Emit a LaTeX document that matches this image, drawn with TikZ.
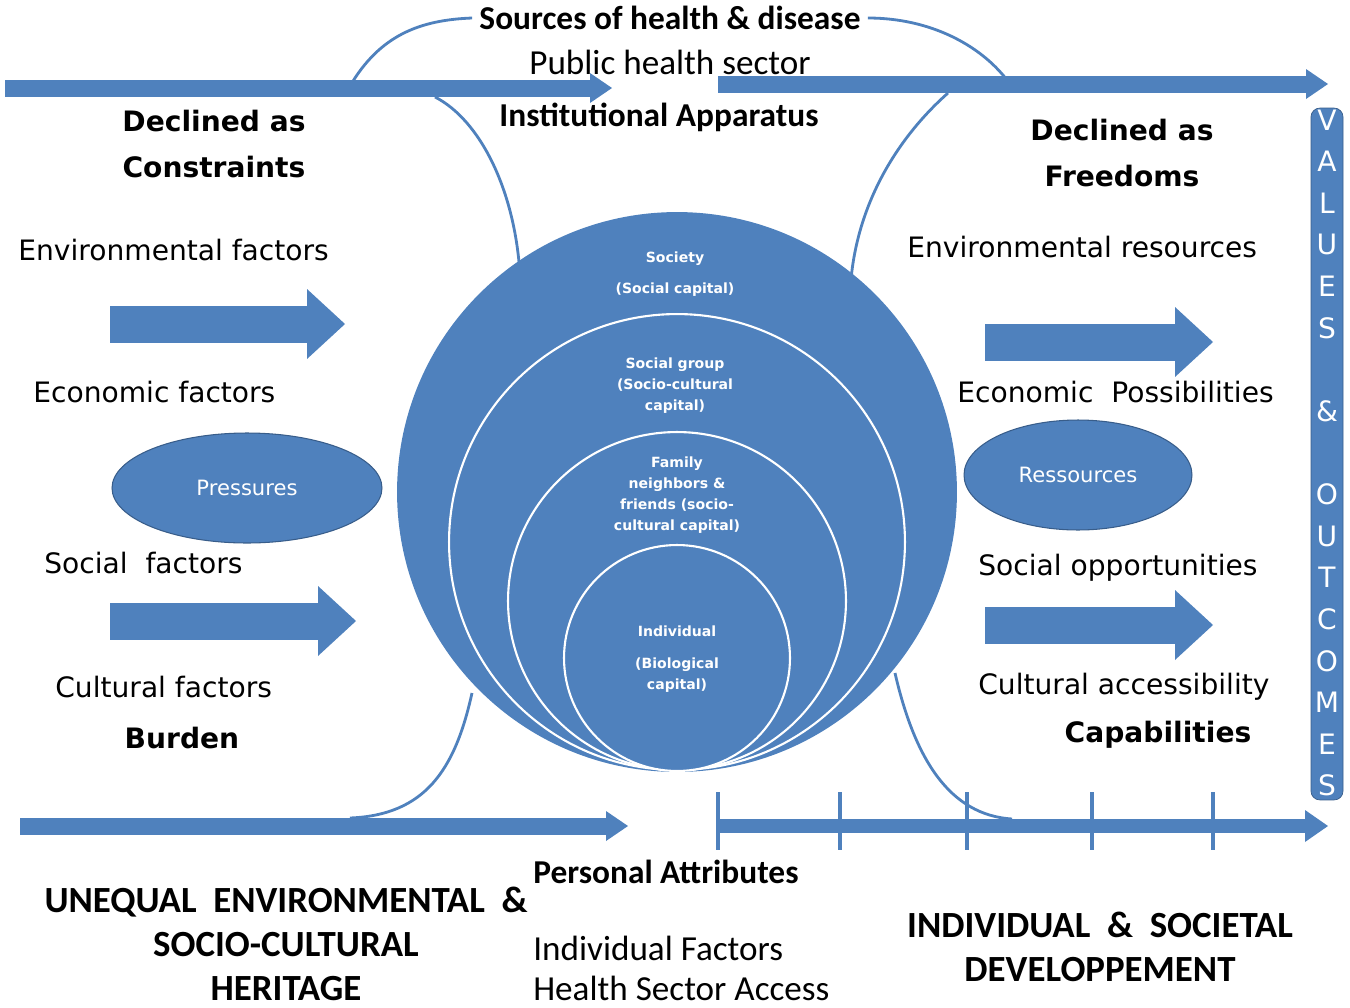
\documentclass[tikz,border=0pt]{standalone}
\usepackage{fontspec}
\setmainfont{Carlito}
\newfontfamily\dejavu{DejaVu Sans}
\usetikzlibrary{arrows.meta,positioning,shapes.geometric}
\definecolor{ppblue}{RGB}{79,129,189}
\definecolor{ppedge}{RGB}{56,93,138}
\tikzset{
  bar/.style={draw=ppblue, line width=0.34cm, -{Triangle[length=0.44cm,width=0.6cm,line width=0pt]}},
  barthin/.style={draw=ppblue, line width=0.28cm, -{Triangle[length=0.46cm,width=0.64cm,line width=0pt]}},
  fat/.style={draw=ppblue, line width=0.74cm, -{Triangle[length=0.76cm,width=1.4cm,line width=0pt]}},
  link/.style={draw=ppblue, line width=1.6pt},
  tick/.style={draw=ppblue, line width=2pt},
  factor/.style={font=\dejavu\fontsize{16}{19}\selectfont, inner sep=0pt},
  title/.style={font=\dejavu\bfseries\fontsize{16}{26}\selectfont, align=center, inner sep=0pt},
  cal/.style={font=\fontsize{20}{24}\selectfont, inner sep=0pt},
  calb/.style={font=\bfseries\fontsize{19}{24}\selectfont, inner sep=0pt},
  caps/.style={font=\bfseries\fontsize{21}{25}\selectfont, align=center, inner sep=0pt},
  ring/.style={circle, fill=ppblue, draw=white, line width=1.2pt, inner sep=0pt},
  small/.style={font=\dejavu\bfseries\fontsize{8}{12}\selectfont, text=white, align=center, inner sep=0pt},
  pill/.style={ellipse, fill=ppblue, draw=ppedge, line width=0.6pt, inner sep=0pt,
               font=\dejavu\fontsize{12}{14}\selectfont, text=white},
  vlet/.style={font=\dejavu\fontsize{16}{18}\selectfont, text=white, inner sep=0pt}
}
\begin{document}
\begin{tikzpicture}[x=0.02cm, y=-0.02cm]
  \useasboundingbox (0,0) rectangle (1350,1008);
  % Long bars, top and bottom
  \draw[bar] (5,88) -- (612,88);
  \draw[bar] (718,84) -- (1328,84);
  \draw[bar] (20,826) -- (628,826);
  \draw[barthin] (718,826) -- (1328,826);
  \foreach \tx in {718,840,967,1092,1213}
    \draw[tick] (\tx,792) -- (\tx,850);
  % Top texts
  \node (src) [calb, inner sep=4pt] at (670,18) {Sources of health \& disease};
  \node (pub) [cal] at (670,62) {Public health sector};
  \node (inst) [calb] at (659,117) {Institutional Apparatus};
  % Curves linking the bars
  \coordinate (tlup) at (350,86);
  \coordinate (tldn) at (435,97);
  \coordinate (tlend) at (520,275);
  \coordinate (trup) at (1007,80);
  \coordinate (trdn) at (948,93);
  \coordinate (trend) at (850,295);
  \coordinate (blup) at (472,693);
  \coordinate (blend) at (350,818);
  \coordinate (brup) at (895,673);
  \coordinate (brend) at (1012,819);
  \draw[link] (tlup) .. controls (380,35) and (420,20) .. (src.west);
  \draw[link] (tldn) .. controls (480,120) and (515,190) .. (tlend);
  \draw[link] (src.east) .. controls (930,18) and (980,45) .. (trup);
  \draw[link] (trdn) .. controls (895,140) and (853,210) .. (trend);
  \draw[link] (blup) .. controls (455,770) and (425,815) .. (blend);
  \draw[link] (brup) .. controls (915,760) and (950,815) .. (brend);
  % Nested circles
  \node (soc) [ring, draw=none, minimum size=11.2cm] at (677,492) {};
  \node (grp) [ring, minimum size=9.12cm] at (677,542) {};
  \node (fam) [ring, minimum size=6.76cm] at (677,601) {};
  \node (ind) [ring, minimum size=4.52cm] at (677,658) {};
  \node (socT) [small] at (675,274) {Society\\[6pt](Social capital)};
  \node (grpT) [small] at (675,386) {Social group\\(Socio-cultural\\capital)};
  \node (famT) [small] at (677,495) {Family\\neighbors \&\\friends (socio-\\cultural capital)};
  \node (indT) [small] at (677,659) {Individual\\[6pt](Biological\\capital)};
  % Left side
  \node (cons) [title] at (214,144) {Declined as\\Constraints};
  \node (envf) [factor, anchor=west] at (18,250) {Environmental factors};
  \draw[fat] (110,324) -- (345,324);
  \node (ecof) [factor, anchor=west] at (33,392) {Economic factors};
  \node (press) [pill, minimum width=5.4cm, minimum height=2.2cm] at (247,488) {Pressures};
  \node (socf) [factor, anchor=west] at (44,563) {Social~ factors};
  \draw[fat] (110,621) -- (356,621);
  \node (culf) [factor, anchor=west] at (55,687) {Cultural factors};
  \node (burd) [title] at (182,738) {Burden};
  % Right side
  \node (free) [title] at (1122,153) {Declined as\\Freedoms};
  \node (envr) [factor, anchor=west] at (907,247) {Environmental resources};
  \draw[fat] (985,342) -- (1213,342);
  \node (ecop) [factor, anchor=west] at (957,392) {Economic~ Possibilities};
  \node (ress) [pill, minimum width=4.56cm, minimum height=2.2cm] at (1078,475) {Ressources};
  \node (soco) [factor, anchor=west] at (978,568) {Social opportunities};
  \draw[fat] (985,625) -- (1213,625);
  \node (cula) [factor, anchor=west] at (978,687) {Cultural accessibility};
  \node (capa) [title] at (1158,735) {Capabilities};
  % Values bar
  \node (vals) [draw=ppedge, fill=ppblue, rounded corners=5pt, inner sep=0pt,
                minimum width=0.64cm, minimum height=13.84cm] at (1327,454) {};
  \foreach \ch [count=\i from 0] in {V,A,L,U,E,S,{},\&,{},O,U,T,C,O,M,E,S}
    \node (v\i) [vlet] at (1327,{120+41.6*\i}) {\ch};
  % Bottom texts
  \node (pers) [calb, anchor=west] at (533,872) {Personal Attributes};
  \node (indf) [cal, anchor=west] at (533,948) {Individual Factors};
  \node (hsa) [cal, anchor=west] at (533,988) {Health Sector Access};
  \node (uneq) [caps] at (286,944) {UNEQUAL~ ENVIRONMENTAL~ \&\\SOCIO-CULTURAL\\HERITAGE};
  \node (dev) [caps] at (1100,947) {INDIVIDUAL~ \&~ SOCIETAL\\DEVELOPPEMENT};
\end{tikzpicture}
\end{document}
